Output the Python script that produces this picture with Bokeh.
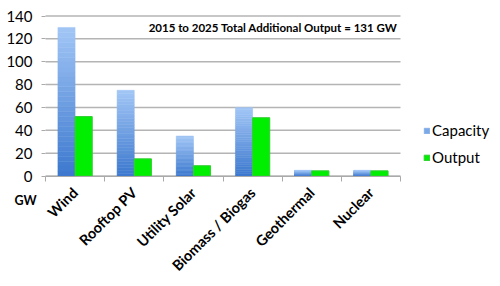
import numpy as np
from bokeh.plotting import figure
from bokeh.models import (ColumnDataSource, FixedTicker, Label, Legend, LegendItem, Range1d)
from bokeh.embed import file_html
from bokeh.resources import INLINE

categories = ["Wind", "Rooftop PV", "Utility Solar", "Biomass / Biogas", "Geothermal", "Nuclear"]
capacity = [130, 75, 35, 60, 5, 5]
output = [52, 15, 9, 51, 4.5, 4.5]
y_ticks = [0, 20, 40, 60, 80, 100, 120, 140]
title_text = "2015 to 2025 Total Additional Output = 131 GW"

FONT = "Lato"
n = len(categories)
centers = np.arange(n) + 0.5

# frame covers the whole canvas; axes are pinned at 0
PX_X = 355 / n          # pixels per category
PX_Y = 160 / 140        # pixels per GW
x_range = Range1d(-45 / PX_X, n + 100 / PX_X)
y_range = Range1d(-(286 - 175.5) / PX_Y, 140 + 15.5 / PX_Y)

p = figure(width=500, height=286, output_backend="svg", toolbar_location=None,
           x_range=x_range, y_range=y_range,
           min_border_left=0, min_border_right=0, min_border_top=0, min_border_bottom=0)
p.outline_line_color = None
p.background_fill_color = "white"
p.border_fill_color = "white"

# gridlines limited to the category span
p.segment(x0=[0] * len(y_ticks), x1=[n] * len(y_ticks), y0=y_ticks, y1=y_ticks,
          line_color="#b4b4b4", line_width=1.5)

N = 30
top_col = np.array([0xA2, 0xC6, 0xF6])
bot_col = np.array([0x3C, 0x78, 0xCE])
xs, bots, tops, cols = [], [], [], []
cap = np.array(capacity, dtype=float)
for i in range(N):
    f0, f1 = i / N, (i + 1) / N
    c = bot_col + (top_col - bot_col) * ((i + 0.5) / N)
    hexc = "#%02x%02x%02x" % tuple(int(round(v)) for v in c)
    for k in range(n):
        xs.append(centers[k] - 0.145)
        bots.append(cap[k] * f0)
        tops.append(cap[k] * f1)
        cols.append(hexc)
src = ColumnDataSource(dict(x=xs, bottom=bots, top=tops, color=cols))
r_cap = p.vbar(x="x", bottom="bottom", top="top", width=0.29, source=src,
               fill_color="color", line_color="color", line_width=0.5)

r_out = p.vbar(x=centers + 0.145, top=output, width=0.29, fill_color="#00ee00",
               line_color="#33cc33", line_width=1)

p.xaxis.fixed_location = 0
p.xaxis.bounds = (0, n)
p.xaxis.ticker = FixedTicker(ticks=list(centers), minor_ticks=list(range(n + 1)))
p.xaxis.major_label_overrides = {float(c): lab for c, lab in zip(centers, categories)}
p.xaxis.major_tick_line_color = None
p.xaxis.minor_tick_line_color = "#aaaaaa"
p.xaxis.minor_tick_out = 5
p.xaxis.minor_tick_in = 0
p.xaxis.axis_line_color = "#aaaaaa"
p.xaxis.axis_line_width = 1.2
p.xaxis.major_label_orientation = np.pi / 4
p.xaxis.major_label_text_font = FONT
p.xaxis.major_label_text_font_style = "bold"
p.xaxis.major_label_text_font_size = "14.5px"
p.xaxis.major_label_text_color = "black"
p.xaxis.major_label_standoff = 8

p.yaxis.fixed_location = 0
p.yaxis.bounds = (0, 140)
p.yaxis.ticker = FixedTicker(ticks=y_ticks)
p.yaxis.axis_line_color = None
p.yaxis.major_tick_line_color = "#aaaaaa"
p.yaxis.major_tick_out = 4
p.yaxis.major_tick_in = 0
p.yaxis.minor_tick_line_color = None
p.yaxis.major_label_text_font = FONT
p.yaxis.major_label_text_font_size = "15px"
p.yaxis.major_label_text_color = "black"
p.yaxis.major_label_standoff = 9

p.xgrid.grid_line_color = None
p.ygrid.grid_line_color = None

p.add_layout(Label(x=n - 0.05, y=130, text=title_text, text_align="right", text_baseline="middle",
                   text_font=FONT, text_font_style="bold", text_font_size="11.5px", text_color="black"))
p.add_layout(Label(x=-31 / PX_X, y=-24.5 / PX_Y, text="GW", text_align="left", text_baseline="middle",
                   text_font=FONT, text_font_style="bold", text_font_size="12.5px", text_color="black"))

legend = Legend(items=[LegendItem(label="Capacity", renderers=[r_cap], index=n * (N * 6 // 10)),
                       LegendItem(label="Output", renderers=[r_out])],
                location=(423, 120), background_fill_alpha=0, border_line_color=None,
                label_text_font=FONT, label_text_font_size="15px", label_text_color="black",
                glyph_width=7, glyph_height=7, spacing=9, label_standoff=2, padding=2, margin=0)
p.add_layout(legend)

open("out.html", "w").write(file_html(p, INLINE))
